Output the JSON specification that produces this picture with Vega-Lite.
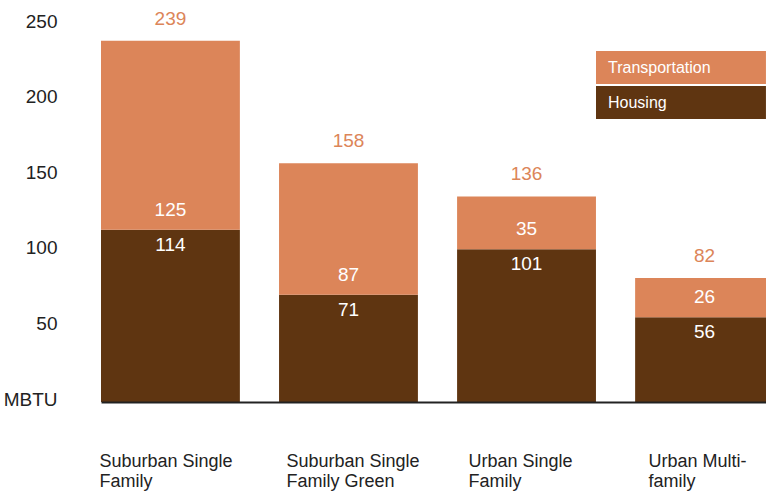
{
  "$schema": "https://vega.github.io/schema/vega-lite/v6.json",
  "width": 665,
  "height": 402,
  "autosize": {"type": "none"},
  "padding": {"left": 101, "top": 0, "right": 0, "bottom": 91},
  "config": {"view": {"stroke": null}, "font": "Liberation Sans"},
  "data": {
    "values": [
      {"cat": "Suburban Single|Family", "housing": 114, "transportation": 125, "total": 239},
      {"cat": "Suburban Single|Family Green", "housing": 71, "transportation": 87, "total": 158},
      {"cat": "Urban Single|Family", "housing": 101, "transportation": 35, "total": 136},
      {"cat": "Urban Multi-|family", "housing": 56, "transportation": 26, "total": 82}
    ]
  },
  "encoding": {
    "x": {
      "field": "cat",
      "type": "nominal",
      "sort": null,
      "scale": {"range": [0, 673], "paddingInner": 0.22, "paddingOuter": 0},
      "axis": {
        "title": null,
        "orient": "bottom",
        "zindex": 1,
        "domainColor": "#222222",
        "domainWidth": 2,
        "ticks": false,
        "labelAngle": 0,
        "labelAlign": "left",
        "labelBaseline": "top",
        "labelPadding": 50,
        "labelFontSize": 18,
        "labelLineHeight": 20,
        "labelColor": "#222222",
        "labelExpr": "split(datum.label, '|')",
        "labelOffset": {
          "condition": [
            {"test": "datum.value === 'Suburban Single|Family'", "value": -71},
            {"test": "datum.value === 'Suburban Single|Family Green'", "value": -62},
            {"test": "datum.value === 'Urban Single|Family'", "value": -58}
          ],
          "value": -56
        }
      }
    }
  },
  "layer": [
    {
      "mark": {"type": "bar"},
      "encoding": {
        "y": {
          "field": "housing",
          "type": "quantitative",
          "scale": {"domain": [0, 266], "nice": false},
          "axis": {
            "title": null,
            "values": [0, 50, 100, 150, 200, 250],
            "labelExpr": "datum.value === 0 ? 'MBTU' : datum.label",
            "domain": false,
            "ticks": false,
            "grid": false,
            "labelPadding": 44,
            "labelFontSize": 19,
            "labelColor": "#222222",
            "labelOffset": -3
          }
        },
        "color": {
          "datum": "Housing",
          "type": "nominal",
          "scale": {"domain": ["Transportation", "Housing"], "range": ["#dc8559", "#5f3511"]},
          "legend": {
            "orient": "none",
            "legendX": 495,
            "legendY": 51,
            "title": null,
            "symbolType": "M-1,-1H9.3V1H-1Z",
            "symbolSize": 1089,
            "symbolStrokeWidth": 0,
            "symbolOpacity": 1,
            "labelOffset": -21,
            "labelColor": "#ffffff",
            "labelFontSize": 16,
            "labelFont": "Liberation Sans",
            "rowPadding": 2
          }
        }
      }
    },
    {
      "mark": {"type": "bar"},
      "encoding": {
        "y": {"field": "housing", "type": "quantitative"},
        "y2": {"field": "total"},
        "color": {"datum": "Transportation", "type": "nominal"}
      }
    },
    {
      "mark": {"type": "text", "dy": -22, "fontSize": 19, "fill": "#dc8559", "baseline": "middle"},
      "encoding": {
        "y": {"field": "total", "type": "quantitative"},
        "text": {"field": "total", "type": "quantitative"}
      }
    },
    {
      "mark": {"type": "text", "dy": -20, "fontSize": 19, "fill": "#ffffff", "baseline": "middle"},
      "encoding": {
        "y": {"field": "housing", "type": "quantitative"},
        "text": {"field": "transportation", "type": "quantitative"}
      }
    },
    {
      "mark": {"type": "text", "dy": 15, "fontSize": 19, "fill": "#ffffff", "baseline": "middle"},
      "encoding": {
        "y": {"field": "housing", "type": "quantitative"},
        "text": {"field": "housing", "type": "quantitative"}
      }
    }
  ]
}
